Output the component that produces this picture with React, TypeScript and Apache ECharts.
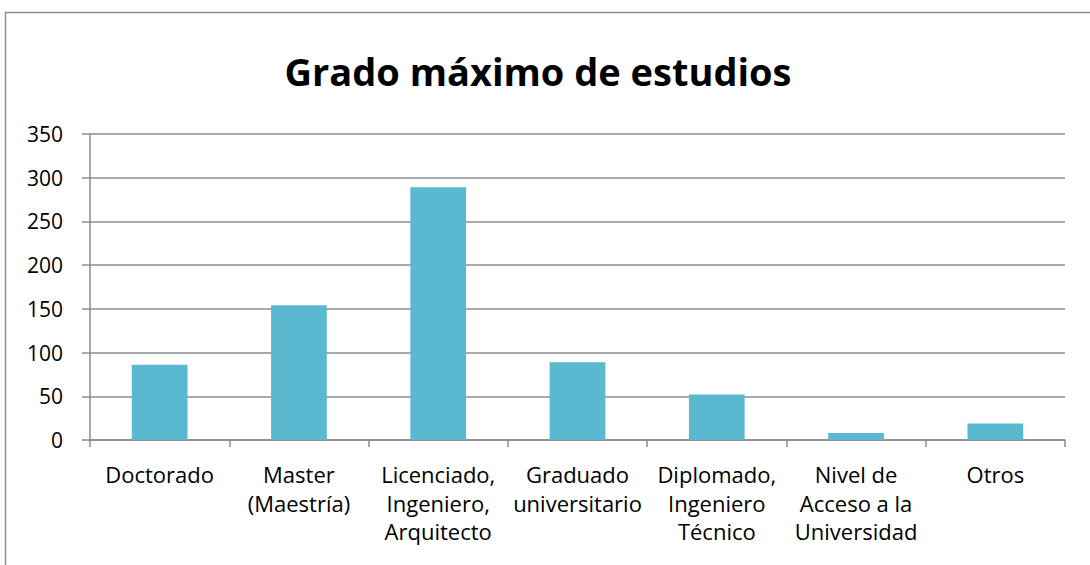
import React, { useEffect, useRef } from "react";
import * as echarts from "echarts";

const categories: string[] = [
  "Doctorado",
  "Master\n(Maestría)",
  "Licenciado,\nIngeniero,\nArquitecto",
  "Graduado\nuniversitario",
  "Diplomado,\nIngeniero\nTécnico",
  "Nivel de\nAcceso a la\nUniversidad",
  "Otros",
];
const values: number[] = [86, 154, 289, 89, 52, 8, 19];
const titleText = "Grado máximo de estudios";
const yMin = 0;
const yMax = 350;
const yInterval = 50;

const FONT = "'Open Sans', 'Noto Sans', sans-serif";

export default function App() {
  const ref = useRef<HTMLDivElement>(null);
  useEffect(() => {
    if (!ref.current) return;
    const chart = echarts.init(ref.current, undefined, { renderer: "svg" });
    chart.setOption({
      animation: false,
      backgroundColor: "#ffffff",
      title: {
        text: titleText,
        left: 533,
        textAlign: "center",
        top: 47,
        textStyle: {
          fontFamily: FONT,
          fontWeight: "bold",
          fontSize: 38,
          color: "#000000",
        },
      },
      graphic: [
        {
          type: "rect",
          shape: { x: 5.5, y: 12.5, width: 1200, height: 700 },
          style: { fill: "none", stroke: "#8f8f8f", lineWidth: 1.5 },
          silent: true,
          z: 100,
        },
      ],
      grid: { left: 90, right: 25, top: 134, bottom: 125 },
      xAxis: {
        type: "category",
        data: categories,
        axisLine: { show: true, lineStyle: { color: "#8c8c8c", width: 1.5 } },
        axisTick: { show: true, length: 7, lineStyle: { color: "#8c8c8c", width: 1.5 } },
        axisLabel: {
          interval: 0,
          margin: 20,
          fontFamily: FONT,
          fontSize: 22,
          lineHeight: 28.5,
          color: "#000000",
        },
      },
      yAxis: {
        type: "value",
        min: yMin,
        max: yMax,
        interval: yInterval,
        axisLine: { show: true, lineStyle: { color: "#8c8c8c", width: 1.5 } },
        axisTick: { show: true, length: 8, lineStyle: { color: "#8c8c8c", width: 1.5 } },
        splitLine: { show: true, lineStyle: { color: "#8c8c8c", width: 1.5 } },
        axisLabel: {
          margin: 27,
          fontFamily: FONT,
          fontSize: 21,
          color: "#000000",
        },
      },
      series: [
        {
          type: "bar",
          data: values,
          barWidth: "40%",
          itemStyle: { color: "#5bb8d1" },
        },
      ],
    });
    return () => chart.dispose();
  }, []);
  return (
    <div
      ref={ref}
      style={{ position: "fixed", left: 0, top: 0, width: 1090, height: 565 }}
    />
  );
}
